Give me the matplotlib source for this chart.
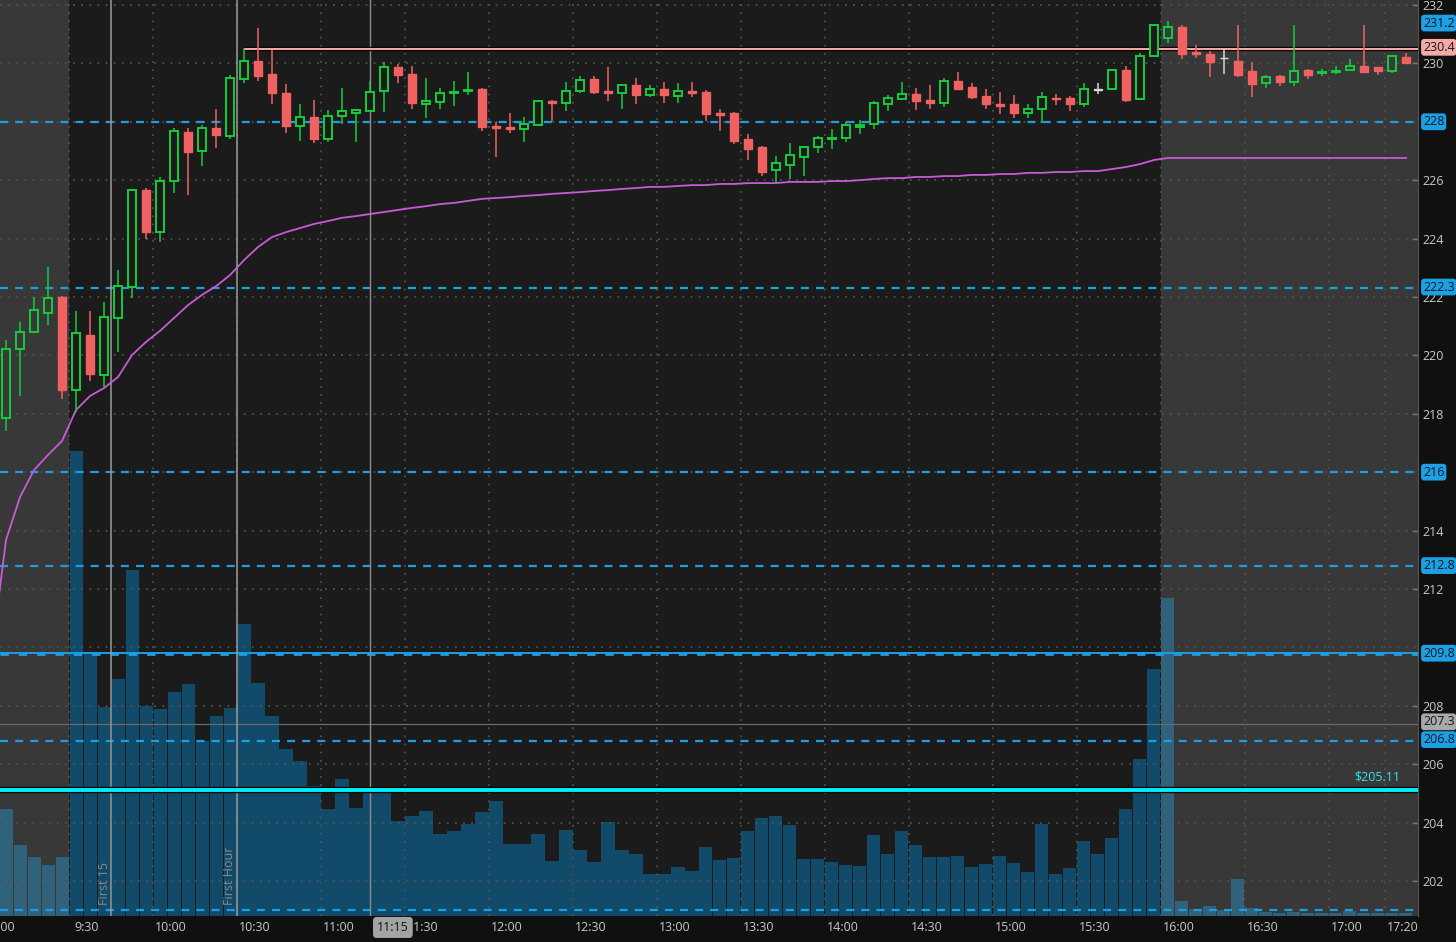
import matplotlib
matplotlib.use("Agg")
import matplotlib.pyplot as plt
import matplotlib.patheffects as pe
from matplotlib import transforms
from matplotlib.patches import Rectangle

plt.rcParams["font.family"] = ["Open Sans", "DejaVu Sans"]

# 5-minute bars, index 0 = 9:05 premarket bar, index 5 = 9:30 open, index 83 = 16:00
OPEN = [217.85, 220.22, 220.80, 221.45, 222.00, 218.81, 220.70, 219.33, 221.28, 222.34,
        225.66, 224.22, 225.97, 227.65, 227.00, 227.79, 227.51, 229.46, 230.08, 229.64,
        228.98, 227.85, 228.16, 227.41, 228.20, 228.30, 228.37, 229.05, 229.88, 229.64,
        228.61, 228.68, 228.98, 229.05, 229.12, 227.85, 227.82, 227.75, 227.89, 228.71,
        228.64, 229.05, 229.46, 229.05, 228.98, 229.26, 228.92, 229.12, 228.88, 229.05,
        229.02, 228.30, 228.30, 227.41, 227.14, 226.35, 226.52, 226.79, 227.14, 227.41,
        227.44, 227.82, 227.92, 228.61, 228.78, 228.95, 228.75, 228.64, 229.40, 229.19,
        228.88, 228.61, 228.61, 228.30, 228.44, 228.81, 228.81, 228.61, 229.10, 229.12,
        229.77, 228.78, 230.25, 230.87, 231.25, 230.39, 230.32, 230.17, 230.08, 229.74,
        229.33, 229.57, 229.36, 229.77, 229.67, 229.70, 229.77, 229.91, 229.88, 229.74,
        230.22]
HIGH = [220.52, 221.14, 222.00, 223.03, 222.05, 221.52, 221.52, 221.83, 222.92, 225.70,
        225.73, 226.11, 227.79, 227.79, 227.89, 228.44, 229.60, 230.53, 231.21, 230.46,
        229.29, 228.61, 228.75, 228.40, 229.16, 228.44, 229.40, 230.05, 229.98, 229.91,
        229.50, 229.16, 229.40, 229.70, 229.14, 227.99, 228.30, 228.16, 228.73, 228.73,
        229.36, 229.57, 229.57, 229.88, 229.28, 229.50, 229.26, 229.36, 229.33, 229.36,
        229.09, 228.44, 228.33, 227.58, 227.17, 226.83, 227.27, 227.14, 227.51, 227.75,
        227.99, 228.06, 228.71, 228.92, 229.36, 229.16, 229.26, 229.50, 229.70, 229.33,
        229.12, 229.02, 228.92, 228.61, 229.02, 228.95, 228.88, 229.33, 229.33, 229.81,
        229.91, 230.35, 231.35, 231.45, 231.31, 230.63, 230.42, 230.49, 231.31, 230.05,
        229.60, 229.60, 231.31, 229.81, 229.81, 229.91, 230.15, 231.31, 229.88, 230.25,
        230.35]
LOW = [217.41, 218.61, 220.76, 221.04, 218.50, 218.06, 219.12, 218.92, 220.11, 221.96,
       223.98, 223.88, 225.56, 225.49, 226.48, 227.10, 227.41, 229.33, 229.40, 228.61,
       227.61, 227.34, 227.27, 227.31, 227.92, 227.31, 228.37, 228.33, 229.33, 228.44,
       228.13, 228.44, 228.54, 228.92, 227.68, 226.79, 227.61, 227.31, 227.85, 228.03,
       228.37, 228.98, 228.95, 228.71, 228.44, 228.61, 228.85, 228.64, 228.64, 228.85,
       228.03, 227.68, 227.24, 226.69, 226.14, 225.90, 226.04, 226.14, 226.93, 227.07,
       227.31, 227.58, 227.75, 228.37, 228.75, 228.40, 228.44, 228.51, 229.12, 228.78,
       228.44, 228.27, 228.13, 228.13, 227.96, 228.57, 228.37, 228.51, 228.95, 229.09,
       228.68, 228.75, 230.22, 230.70, 230.15, 230.18, 229.53, 229.64, 229.53, 228.85,
       229.16, 229.22, 229.22, 229.46, 229.57, 229.64, 229.77, 229.70, 229.60, 229.67,
       230.01]
CLOSE = [220.22, 220.80, 221.55, 221.96, 218.81, 220.76, 219.36, 221.31, 222.37, 225.66,
         224.22, 225.97, 227.68, 226.96, 227.79, 227.55, 229.50, 230.08, 229.57, 228.98,
         227.85, 228.16, 227.41, 228.20, 228.37, 228.40, 229.02, 229.88, 229.60, 228.64,
         228.71, 228.98, 229.02, 229.09, 227.82, 227.79, 227.75, 227.92, 228.71, 228.64,
         229.05, 229.43, 229.02, 228.98, 229.26, 228.92, 229.12, 228.92, 229.05, 228.98,
         228.27, 228.23, 227.34, 227.07, 226.28, 226.59, 226.86, 227.14, 227.44, 227.44,
         227.89, 227.89, 228.64, 228.81, 228.95, 228.71, 228.64, 229.40, 229.12, 228.85,
         228.61, 228.54, 228.30, 228.44, 228.85, 228.78, 228.61, 229.12, 229.10, 229.77,
         228.75, 230.25, 231.31, 231.25, 230.32, 230.32, 230.05, 230.17, 229.60, 229.29,
         229.53, 229.36, 229.74, 229.60, 229.70, 229.74, 229.91, 229.70, 229.74, 230.25,
         230.01]
VOLUME_K = [107, 71, 59, 51, 59, 465, 262, 209, 237, 346,
            210, 207, 224, 232, 175, 200, 208, 292, 233, 200,
            167, 155, 130, 107, 137, 108, 128, 126, 95, 100,
            105, 82, 85, 92, 104, 115, 72, 72, 82, 55,
            86, 66, 54, 94, 66, 62, 42, 42, 49, 45,
            69, 56, 58, 85, 98, 100, 91, 57, 57, 54,
            51, 50, 81, 62, 85, 71, 59, 59, 60, 49,
            52, 60, 53, 44, 92, 42, 48, 75, 62, 78,
            107, 157, 247, 318, 15, 7, 10, 6, 37, 8,
            4, 3, 4, 3, 3, 3, 5, 3, 3, 3,
            3]
# VWAP at the 9:00 bar (just off the left edge), then one value per bar above
VWAP_PREV = 209.9
VWAP = [213.68, 215.15, 216.07, 216.59, 217.07, 218.13, 218.61, 218.88, 219.26, 220.01,
        220.46, 220.84, 221.28, 221.72, 222.07, 222.37, 222.75, 223.26, 223.71, 224.05,
        224.22, 224.36, 224.50, 224.60, 224.71, 224.77, 224.84, 224.91, 224.98, 225.05,
        225.11, 225.18, 225.22, 225.29, 225.36, 225.39, 225.42, 225.46, 225.49, 225.53,
        225.56, 225.59, 225.63, 225.66, 225.70, 225.73, 225.77, 225.77, 225.80, 225.83,
        225.83, 225.87, 225.87, 225.90, 225.90, 225.90, 225.94, 225.94, 225.94, 225.97,
        225.97, 226.00, 226.04, 226.07, 226.07, 226.11, 226.11, 226.14, 226.14, 226.18,
        226.18, 226.21, 226.21, 226.25, 226.25, 226.28, 226.28, 226.31, 226.31, 226.38,
        226.45, 226.55, 226.69, 226.76, 226.76, 226.76, 226.76, 226.76, 226.76, 226.76,
        226.76, 226.76, 226.76, 226.76, 226.76, 226.76, 226.76, 226.76, 226.76, 226.76,
        226.76]

TIME_LABELS = ["9:00", "9:30", "10:00", "10:30", "11:00", "11:30", "12:00", "12:30",
               "13:00", "13:30", "14:00", "14:30", "15:00", "15:30", "16:00", "16:30",
               "17:00", "17:20"]
PRICE_TICKS = [202, 204, 206, 208, 212, 214, 218, 220, 222, 224, 226, 230, 232]
GRID_PRICES = [202, 204, 206, 208, 210, 212, 214, 216, 218, 220, 222, 224, 226, 228, 230, 232]
DASHED_LEVELS = [228.0, 222.3, 216.0, 212.8, 206.8, 201.0]
SOLID_LEVEL = 209.8
CYAN_LEVEL = 205.11
CURSOR_PRICE = 207.38
HIGH_LEVEL = 230.48
PRICE_BOXES = [("231.2", 231.38, "#1d9fe4"), ("230.4", 230.55, "#f5aaa5"),
               ("228", 228.0, "#1d9fe4"), ("222.3", 222.34, "#1d9fe4"),
               ("216", 216.0, "#1d9fe4"), ("212.8", 212.8, "#1d9fe4"),
               ("209.8", 209.8, "#1d9fe4"), ("207.3", 207.45, "#a9a9a9"),
               ("206.8", 206.84, "#1d9fe4")]

BG = "#1b1b1b"
BG_SHADED = "#393939"
GREEN = "#16cc3e"
RED = "#f06262"
BLUE = "#1d9ee2"


def bar_index(label):
    """Bar index of an h:mm time (9:30 is bar 5)."""
    hour, minute = label.split(":")
    return 5 + (int(hour) * 60 + int(minute) - 570) / 5.0


x = list(range(len(OPEN)))
x_left, x_right = -0.43, 100.86

fig = plt.figure(figsize=(14.56, 9.42), dpi=100, facecolor="#101010")
ax = fig.add_axes([0, 26 / 942, 1418 / 1456, 916 / 942])
ax.set_facecolor(BG)
ax.set_xlim(x_left, x_right)
ax.set_ylim(0, 916)
ax.bar(x, VOLUME_K, width=0.93, color="#124b69", linewidth=0, zorder=2)
ax.axvspan(x_left, 4.5, color="white", alpha=0.13, lw=0, zorder=3)
ax.axvspan(82.5, x_right, color="white", alpha=0.13, lw=0, zorder=3)
ax.set_yticks([])
ax.set_xticks([bar_index(t) + 0.75 for t in TIME_LABELS])
ax.set_xticklabels(TIME_LABELS)
ax.tick_params(axis="x", length=0, pad=3.5, labelsize=9, labelcolor="#c8c8c8")
for spine in ax.spines.values():
    spine.set_visible(False)

axp = ax.twinx()
axp.set_xlim(x_left, x_right)
axp.set_ylim(200.80, 232.17)
axp.set_yticks(PRICE_TICKS)
axp.set_yticklabels([str(p) for p in PRICE_TICKS])
axp.tick_params(axis="y", direction="in", length=4, width=1, color="#777777",
                pad=3, labelsize=9, labelcolor="#c8c8c8")
for name, spine in axp.spines.items():
    spine.set_visible(name == "right")
axp.spines["right"].set_color("#555555")

# dotted grid
for p in GRID_PRICES:
    axp.axhline(p, color="#505050", lw=1.3, ls=(0, (1, 3.5)), zorder=1)
for t in TIME_LABELS[1:]:
    axp.axvline(bar_index(t) - 0.5, color="#505050", lw=1.3, ls=(0, (1, 3.5)), zorder=1)

# level lines
for lvl in DASHED_LEVELS:
    axp.axhline(lvl, color=BLUE, lw=1.6, ls=(0, (3.6, 3.2)), zorder=4)
axp.axhline(SOLID_LEVEL, color=BLUE, lw=1.4, zorder=4)
axp.axhline(SOLID_LEVEL - 0.03, color=BLUE, lw=2.0, ls=(0, (3.0, 3.6)), zorder=4)
axp.axhline(CURSOR_PRICE, color="#6a6a6a", lw=0.9, zorder=4)
axp.axhline(CYAN_LEVEL, color="#00eefc", lw=2.8, zorder=5,
            path_effects=[pe.Stroke(linewidth=4.6, foreground="#060606"), pe.Normal()])
axp.hlines(HIGH_LEVEL, 17.0, x_right, color="#f7aca6", lw=1.4, zorder=5,
           path_effects=[pe.Stroke(linewidth=3.2, foreground="#080808"), pe.Normal()])

# vertical markers
axp.axvline(7.5, color="#9a9a9a", lw=1.1, zorder=4)
axp.axvline(16.5, color="#9a9a9a", lw=1.1, zorder=4)
axp.axvline(26.0, color="#8c8c8c", lw=1.0, zorder=4)
axp.text(7.0, 201.17, "First 15", rotation=90, ha="center", va="bottom",
         fontsize=9, color="#8a8a8a", zorder=6)
axp.text(15.93, 201.17, "First Hour", rotation=90, ha="center", va="bottom",
         fontsize=9, color="#8a8a8a", zorder=6)
axp.text(99.6, 205.56, "$205.11", ha="right", va="center", fontsize=9,
         color="#2ee4ee", zorder=6)

# VWAP
axp.plot([-1] + x, [VWAP_PREV] + VWAP, color="#c95ad8", lw=1.3, zorder=5)

# candles
body_w = 0.56
for i in x:
    o, h, l, c = OPEN[i], HIGH[i], LOW[i], CLOSE[i]
    if c > o:
        col = GREEN
    elif c < o:
        col = RED
    else:
        col = "#d8d8d8"
    axp.vlines(i, l, h, color=col, lw=1.1, zorder=6)
    bottom = min(o, c)
    height = max(abs(c - o), 0.02)
    if c > o:
        face = BG_SHADED if (i < 5 or i > 82) else BG
        rect = Rectangle((i - body_w / 2, bottom), body_w, height,
                         facecolor=face, edgecolor=col, lw=1.4, zorder=7)
    else:
        rect = Rectangle((i - body_w / 2, bottom), body_w, height,
                         facecolor=col, edgecolor=col, lw=1.0, zorder=7)
    axp.add_patch(rect)

# right-hand price boxes
trans = transforms.blended_transform_factory(axp.transAxes, axp.transData)
for text, price, color in PRICE_BOXES:
    axp.text(1.0035, price, text, transform=trans, ha="left", va="center",
             fontsize=9, color="#111820", clip_on=False, zorder=10,
             bbox=dict(boxstyle="round,pad=0.15,rounding_size=0.25", fc=color, ec="none"))

# cursor time box on the time axis (covers the first digit of 11:30, as in the source)
trans_x = transforms.blended_transform_factory(axp.transData, axp.transAxes)
axp.text(26.5, -0.0125, "11:15", transform=trans_x, ha="left", va="center",
         fontsize=9, color="#151515", clip_on=False, zorder=10,
         bbox=dict(boxstyle="round,pad=0.32,rounding_size=0.3", fc="#a3a3a3", ec="none"))

fig.savefig("out.png", dpi=100, facecolor=fig.get_facecolor())
